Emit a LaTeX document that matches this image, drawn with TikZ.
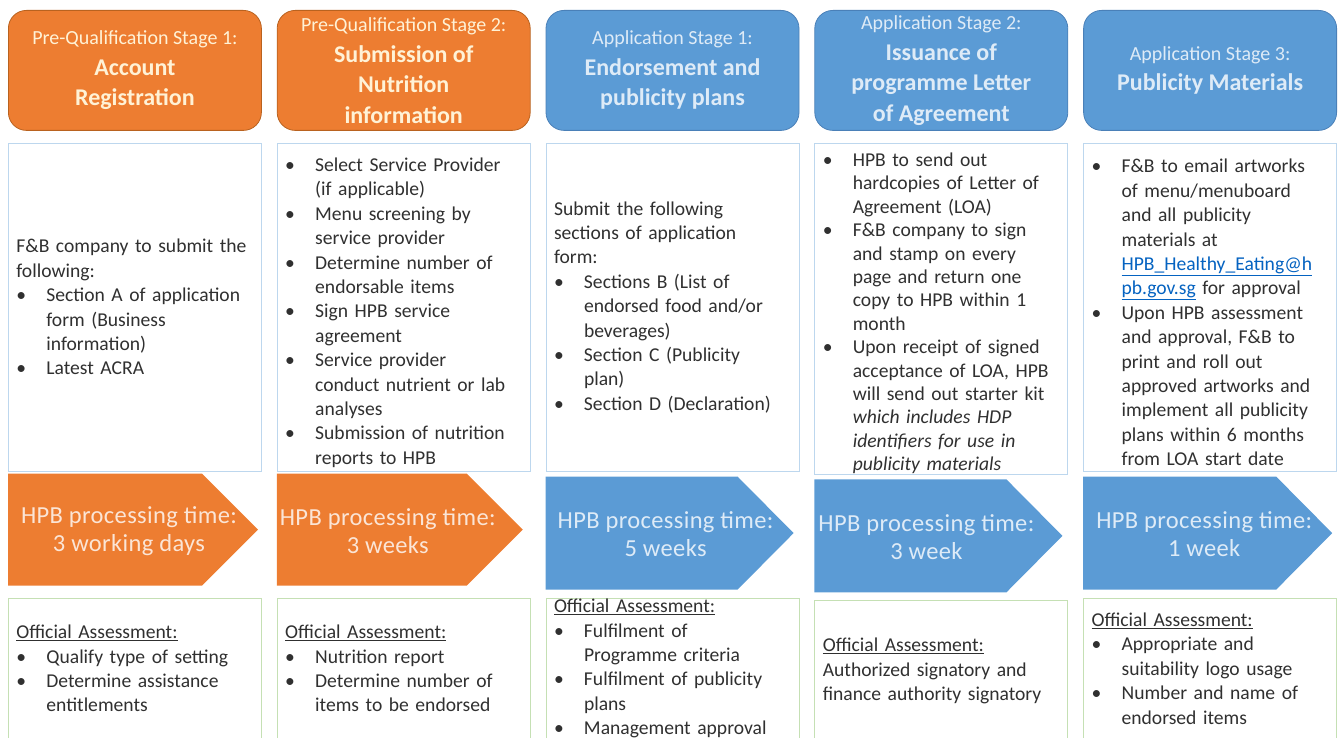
\documentclass[tikz,border=0pt]{standalone}
\usepackage{fontspec}
\setmainfont{Carlito}
\usetikzlibrary{calc,positioning}
\definecolor{preorange}{HTML}{ED7D31}
\definecolor{preedge}{HTML}{B9621F}
\definecolor{appblue}{HTML}{5B9BD5}
\definecolor{appedge}{HTML}{4A80B8}
\definecolor{paleorange}{HTML}{FBE5D6}
\definecolor{paleblue}{HTML}{DEEBF7}
\definecolor{headtext}{HTML}{FFF2D6}
\definecolor{taskedge}{HTML}{BDD7EE}
\definecolor{checkedge}{HTML}{C5E0B4}
\definecolor{linkblue}{HTML}{0563C1}
\definecolor{bodytext}{HTML}{303030}
\newcommand{\bul}[1]{\par\hangindent=30pt\hangafter=1\noindent\hbox to 30pt{\textbullet\hfil}#1\par}
\newcommand{\subttl}[1]{{\fontsize{20}{30.5}\selectfont\mdseries #1}}
\newcommand{\offas}{\underline{Official Assessment:}}
\tikzstyle{stage}=[draw, line width=0.8pt, rounded corners=18pt, minimum width=253pt, minimum height=120pt, inner sep=0pt, align=center, font=\fontsize{24}{30.5}\selectfont\bfseries]
\tikzstyle{prestage}=[stage, fill=preorange, draw=preedge, text=headtext]
\tikzstyle{appstage}=[stage, fill=appblue, draw=appedge, text=paleblue]
\tikzstyle{task}=[draw=taskedge, line width=0.8pt, fill=white, minimum width=253pt, minimum height=328pt, text width=237pt, inner xsep=8pt, inner ysep=0pt, align=left, text=bodytext, font=\fontsize{19.6}{24.4}\selectfont]
\tikzstyle{check}=[task, draw=checkedge, minimum height=141pt]
\tikzstyle{proctime}=[align=center, inner sep=0pt, font=\fontsize{24.5}{28}\selectfont\addfontfeature{LetterSpace=1.5}]

\begin{document}
\begin{tikzpicture}[x=1pt, y=-1pt]
\useasboundingbox (0,0) rectangle (1338,738);
% stage headers
\node (h1) [prestage, anchor=north west] at (8,10) {\subttl{Pre-Qualification Stage 1:}\\Account\\Registration};
\node (h2) [prestage, right=15pt of h1] {\subttl{Pre-Qualification Stage 2:}\\Submission of\\Nutrition\\information};
\node (h3) [appstage, right=15pt of h2] {\subttl{Application Stage 1:}\\Endorsement and\\publicity plans};
\node (h4) [appstage, right=15pt of h3] {\subttl{Application Stage 2:}\\Issuance of\\programme Letter\\of Agreement};
\node (h5) [appstage, right=15pt of h4] {\subttl{Application Stage 3:}\\Publicity Materials};

% what is to be done in each stage
\node (t1) [task, below=12pt of h1] {F\&B company to submit the\newline following:
\bul{Section A of application\newline form (Business\newline information)}
\bul{Latest ACRA}};
\node (t2) [task, below=12pt of h2] {\bul{Select Service Provider\newline (if applicable)}
\bul{Menu screening by\newline service provider}
\bul{Determine number of\newline endorsable items}
\bul{Sign HPB service\newline agreement}
\bul{Service provider\newline conduct nutrient or lab\newline analyses}
\bul{Submission of nutrition\newline reports to HPB}};
\node (t3) [task, below=12pt of h3] {Submit the following\newline sections of application\newline form:
\bul{Sections B (List of\newline endorsed food and/or\newline beverages)}
\bul{Section C (Publicity\newline plan)}
\bul{Section D (Declaration)}};
\node (t4) [task, below=12pt of h4, font=\fontsize{19.6}{23.4}\selectfont] {\bul{HPB to send out\newline hardcopies of Letter of\newline Agreement (LOA)}
\bul{F\&B company to sign\newline and stamp on every\newline page and return one\newline copy to HPB within 1\newline month}
\bul{Upon receipt of signed\newline acceptance of LOA, HPB\newline will send out starter kit\newline \textit{which includes HDP\newline identifiers for use in\newline publicity materials}}};
\node (t5) [task, below=12pt of h5] {\bul{F\&B to email artworks\newline of menu/menuboard\newline and all publicity\newline materials at\newline {\color{linkblue}\underline{HPB\_Healthy\_Eating@h}\newline \underline{pb.gov.sg}} for approval}
\bul{Upon HPB assessment\newline and approval, F\&B to\newline print and roll out\newline approved artworks and\newline implement all publicity\newline plans within 6 months\newline from LOA start date}};

% processing time arrows
\coordinate (a1) at ($(t1.south west)+(0,2)$);
\coordinate (a2) at ($(t2.south west)+(0,2)$);
\coordinate (a3) at ($(t3.south west)+(0,5)$);
\coordinate (a4) at ($(t4.south west)+(0,5)$);
\coordinate (a5) at ($(t5.south west)+(0,5)$);
\fill[preorange] (a1) -- ++(194,0) -- ++(56,56) -- ++(-56,56) -- ++(-194,0) -- cycle;
\fill[preorange] (a2) -- ++(190,0) -- ++(56,56) -- ++(-56,56) -- ++(-190,0) -- cycle;
\fill[appblue] (a3) -- ++(192,0) -- ++(56,56.5) -- ++(-56,56.5) -- ++(-192,0) -- cycle;
\fill[appblue] (a4) -- ++(192,0) -- ++(56,56.5) -- ++(-56,56.5) -- ++(-192,0) -- cycle;
\fill[appblue] (a5) -- ++(193,0) -- ++(56,56.5) -- ++(-56,56.5) -- ++(-193,0) -- cycle;
\node (p1) [proctime, text=paleorange] at ($(a1)+(121,58)$) {HPB processing time:\\3 working days};
\node (p2) [proctime, text=paleorange] at ($(a2)+(111,58)$) {HPB processing time:\\3 weeks};
\node (p3) [proctime, text=paleblue] at ($(a3)+(120,58)$) {HPB processing time:\\5 weeks};
\node (p4) [proctime, text=paleblue] at ($(a4)+(112,58)$) {HPB processing time:\\3 week};
\node (p5) [proctime, text=paleblue] at ($(a5)+(121,58)$) {HPB processing time:\\1 week};

% official assessment
\node (c1) [check, below=126pt of t1] {\offas
\bul{Qualify type of setting}
\bul{Determine assistance\newline entitlements}};
\node (c2) [check, below=126pt of t2] {\offas
\bul{Nutrition report}
\bul{Determine number of\newline items to be endorsed}};
\node (c3) [check, below=126pt of t3] {\offas
\bul{Fulfilment of\newline Programme criteria}
\bul{Fulfilment of publicity\newline plans}
\bul{Management approval}};
\node (c4) [check, below=126pt of t4] {\offas\newline Authorized signatory and\newline finance authority signatory};
\node (c5) [check, below=126pt of t5] {\offas
\bul{Appropriate and\newline suitability logo usage}
\bul{Number and name of\newline endorsed items}};
\end{tikzpicture}
\end{document}
